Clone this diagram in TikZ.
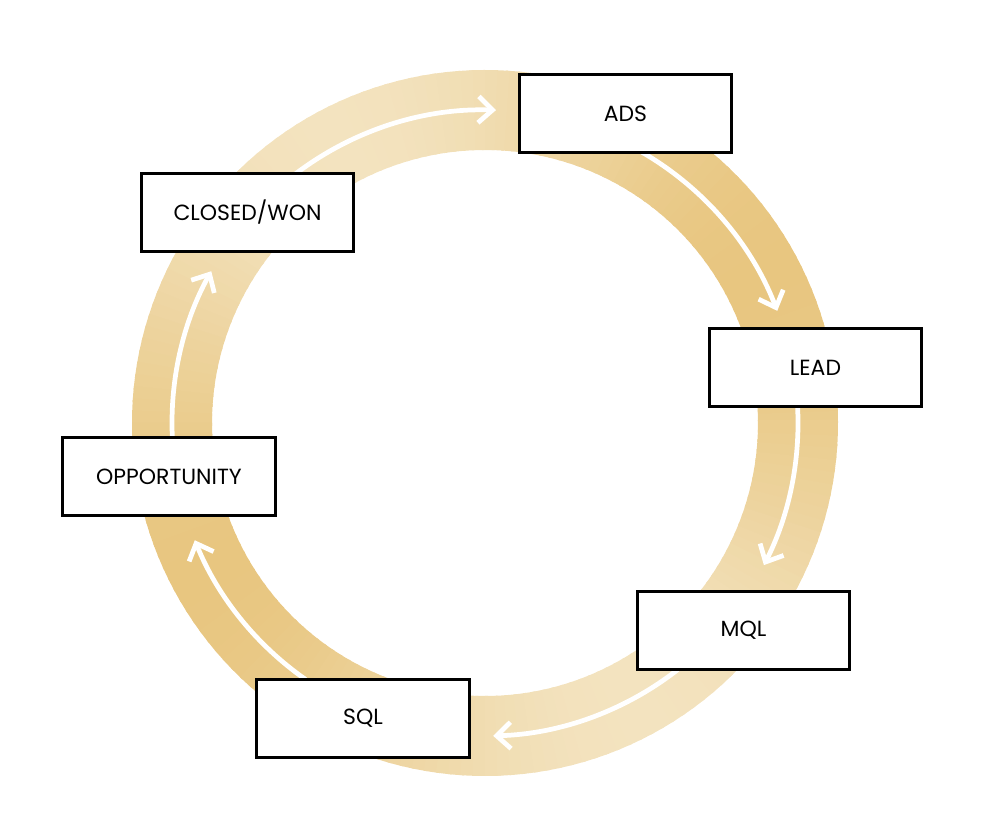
\documentclass[tikz,border=0pt]{standalone}
\usepackage{fontspec}
\setmainfont{Poppins}
\usetikzlibrary{arrows.meta}
\definecolor{goldhell}{RGB}{243,227,191}
\definecolor{golddunkel}{RGB}{232,198,128}
\tikzstyle{stufe}=[draw=black,line width=1.7pt,fill=white,minimum width=4.25cm,minimum height=1.55cm,inner sep=0pt,font=\fontsize{12.5}{14}\selectfont]
\tikzstyle{pfeil}=[white,line width=2.7pt,-{Straight Barb[length=8pt,width=15pt]}]

\begin{document}
\begin{tikzpicture}[x=0.02cm,y=0.02cm]
			\useasboundingbox (0,0) rectangle (1000,828);
			% Ring zeichnen
			\begin{scope}[shift={(485,405)}]
				\foreach \a in {0,2,...,358} {
					\pgfmathsetmacro\t{50+50*cos(2*(\a-117))}
					\fill[goldhell!\t!golddunkel] (\a:353) arc[start angle=\a,end angle=\a+2.6,radius=353]
						-- (\a+2.6:273) arc[start angle=\a+2.6,end angle=\a,radius=273] -- cycle;
				}
				% Pfeile zeichnen
				\draw[pfeil] (128:313) arc[start angle=128,end angle=88,radius=313];
				\draw[pfeil] (60:313) arc[start angle=60,end angle=21,radius=313];
				\draw[pfeil] (3:313) arc[start angle=3,end angle=-27,radius=313];
				\draw[pfeil] (-52:313) arc[start angle=-52,end angle=-88.5,radius=313];
				\draw[pfeil] (-125:313) arc[start angle=-125,end angle=-158,radius=313];
				\draw[pfeil] (-177:313) arc[start angle=-177,end angle=-209,radius=313];
			\end{scope}
			% Stufen zeichnen
			\node[stufe] (ads) at (625.5,714.5) {ADS};
			\node[stufe] (lead) at (815.5,460.5) {LEAD};
			\node[stufe] (mql) at (743.5,197.5) {MQL};
			\node[stufe] (sql) at (363,109.5) {SQL};
			\node[stufe] (opportunity) at (169,351.5) {OPPORTUNITY};
			\node[stufe] (closedwon) at (247.5,615.5) {CLOSED/WON};
		\end{tikzpicture}
\end{document}
